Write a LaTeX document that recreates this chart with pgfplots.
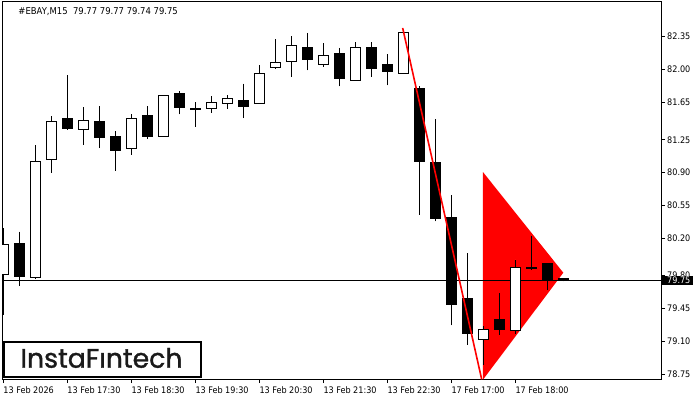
\documentclass[border=0pt]{standalone}
\usepackage{fontspec}
\setmainfont{DejaVu Sans Condensed}
\newfontfamily\logofont[FakeBold=1.2]{Poppins}
\usepackage{pgfplots}
\usepackage{pgfplotstable}
\usepgfplotslibrary{statistics}
\pgfplotsset{compat=1.18}

\pgfplotstableread{
k  open   high   low    close
0  79.81  80.31  79.38  80.13
1  80.14  80.27  79.69  79.79
2  79.78  81.19  79.77  81.02
3  81.04  81.50  80.90  81.45
4  81.48  81.94  81.36  81.37
5  81.36  81.60  81.19  81.46
6  81.44  81.61  81.16  81.27
7  81.29  81.34  80.92  81.14
8  81.16  81.53  81.09  81.48
9  81.51  81.61  81.26  81.28
10 81.29  81.72  81.28  81.72
11 81.74  81.77  81.52  81.59
12 81.585 81.65  81.39  81.57
13 81.58  81.72  81.54  81.65
14 81.64  81.73  81.58  81.69
15 81.67  81.85  81.48  81.61
16 81.64  82.05  81.63  81.96
17 82.02  82.33  82.01  82.07
18 82.09  82.36  81.92  82.26
19 82.23  82.39  81.99  82.11
20 82.05  82.28  82.03  82.15
21 82.17  82.23  81.82  81.90
22 81.88  82.29  81.88  82.23
23 82.23  82.29  81.92  82.01
24 82.05  82.16  81.83  81.98
25 81.96  82.42  81.96  82.39
26 81.80  81.82  80.45  81.02
27 81.01  81.47  80.38  80.41
28 80.42  80.66  79.27  79.49
29 79.56  80.04  79.06  79.18
30 79.12  79.26  78.85  79.23
31 79.33  79.61  79.17  79.22
32 79.21  79.97  79.18  79.89
33 79.89  80.22  79.87  79.875
34 79.93  79.93  79.65  79.75
35 79.77  79.77  79.74  79.75
}\ohlc

\newcommand\drawcandle[1]{%
  \pgfplotstablegetelem{#1}{open}\of\ohlc \let\vO\pgfplotsretval
  \pgfplotstablegetelem{#1}{high}\of\ohlc \let\vH\pgfplotsretval
  \pgfplotstablegetelem{#1}{low}\of\ohlc \let\vL\pgfplotsretval
  \pgfplotstablegetelem{#1}{close}\of\ohlc \let\vC\pgfplotsretval
  \pgfmathsetmacro\vB{min(\vO,\vC)}%
  \pgfmathsetmacro\vT{max(\vO,\vC)}%
  \edef\tmpcandle{\noexpand\addplot[draw=black, line width=1bp,
     fill=\ifdim\vC pt<\vO pt black\else white\fi,
     boxplot prepared={draw position=#1, lower whisker=\vL, upper whisker=\vH,
       lower quartile=\vB, upper quartile=\vT, median=\vB}] coordinates {};}%
  \tmpcandle
}

\begin{document}
\begin{tikzpicture}
\path[use as bounding box] (0,0) rectangle (700bp,400bp);
\begin{axis}[
  name=main, at={(2bp,21bp)}, anchor=south west,
  scale only axis, width=659bp, height=377bp,
  xmin=-0.08125, xmax=41.106, ymin=78.697, ymax=82.720,
  axis line style={line width=1bp, black},
  tick style={line width=1bp, black},
  major tick length=4bp, tick align=outside,
  xtick pos=left, ytick pos=right, yticklabel pos=right,
  xtick={0,4,8,12,16,20,24,28,32},
  xticklabels={13 Feb 2026, 13 Feb 17:30, 13 Feb 18:30, 13 Feb 19:30, 13 Feb 20:30, 13 Feb 21:30, 13 Feb 22:30, 17 Feb 17:00, 17 Feb 18:00},
  ytick={78.75,79.10,79.45,79.80,80.20,80.55,80.90,81.25,81.65,82.00,82.35},
  tick label style={font=\fontsize{9bp}{10bp}\selectfont, text=black},
  yticklabel style={/pgf/number format/fixed, /pgf/number format/fixed zerofill,
     /pgf/number format/precision=2, /pgf/number format/assume math mode=true,
     anchor=west, inner sep=0pt, xshift=2bp},
  xticklabel style={anchor=base west, inner sep=0pt, yshift=-10bp},
  boxplot/draw direction=y,
  boxplot/box extend=0.625,
  boxplot/whisker extend=0,
  boxplot/draw/median/.code={},
]
% pattern triangle
\addplot[fill=red, draw=none] coordinates {(29.98,80.905) (35.0,79.831) (29.98,78.69)} -- cycle;
% current price line
\addplot[black, line width=1bp] coordinates {(-0.08125,79.75) (41.106,79.75)};
% candles
\pgfplotsinvokeforeach{0,...,35}{\drawcandle{#1}}
% pattern line
\addplot[red, line width=1.6bp] coordinates {(24.96,82.443) (29.9,78.693)};
\coordinate (pl) at (axis cs:0,79.75);
\end{axis}
\coordinate (pr) at (main.east |- pl);
\fill[black] ([yshift=-4.5bp]pr) rectangle ++(31.5bp,9bp);
\node[anchor=west, inner sep=0pt, text=white, font=\fontsize{9bp}{10bp}\selectfont] at ([xshift=6bp]pr) {79.75};
\node[anchor=base west, inner sep=0pt, font=\fontsize{9.4bp}{10bp}\selectfont] at ([xshift=16.3bp, yshift=-12.3bp]main.north west) {\#EBAY,M15\ \ 79.77 79.77 79.74 79.75};
\draw[line width=2bp, fill=white] ([xshift=1.7bp, yshift=1.7bp]main.south west) rectangle ([xshift=199bp, yshift=37.3bp]main.south west);
\node[anchor=base, inner sep=0pt, text={rgb,255:red,26;green,26;blue,26}, font=\logofont\fontsize{26.7bp}{30bp}\selectfont] at ([xshift=99.5bp, yshift=11.3bp]main.south west) {InstaFıntech};
\end{tikzpicture}
\end{document}
